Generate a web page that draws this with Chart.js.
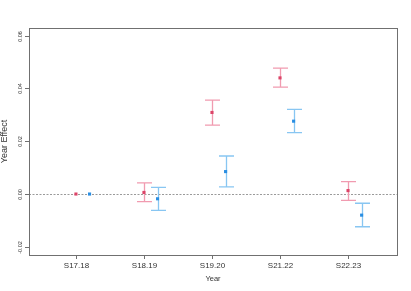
<!DOCTYPE html>
<html>
<head>
<meta charset="utf-8">
<script src="https://cdn.jsdelivr.net/npm/chart.js@4.4.0/dist/chart.umd.min.js"></script>
<style>
html,body{margin:0;padding:0;background:#fff;}
canvas{display:block;}
</style>
</head>
<body>
<canvas id="c" width="411" height="291"></canvas>
<script>
const categories = ['S17.18','S18.19','S19.20','S21.22','S22.23'];
const redEst  = [0, 0.0006, 0.0309, 0.0440, 0.0013];
const redLo   = [null, -0.0029, 0.0261, 0.0405, -0.0024];
const redHi   = [null, 0.0042, 0.0356, 0.0477, 0.0047];
const blueEst = [0, -0.0018, 0.0085, 0.0276, -0.0080];
const blueLo  = [null, -0.0062, 0.0027, 0.0233, -0.0124];
const blueHi  = [null, 0.0025, 0.0144, 0.0321, -0.0035];
const yTicks  = [-0.02, 0, 0.02, 0.04, 0.06];
const yTickLabels = ['-0.02','0.00','0.02','0.04','0.06'];

const BLUE_OFFSET = 0.2;
const RED_PT = '#dc4468', RED_BAR = '#f19bb0';
const BLUE_PT = '#2a8ee2', BLUE_BAR = '#88c6f2';
const AXIS = '#707070';
const FONT = '"Liberation Sans", Arial, Helvetica, sans-serif';

const redPts = redEst.map((v,i)=>({x:i, y:v}));
const bluePts = blueEst.map((v,i)=>({x:i+BLUE_OFFSET, y:v}));

const decor = {
  id:'decor',
  beforeDatasetsDraw(chart){
    const {ctx, chartArea:a, scales:{x,y}} = chart;
    ctx.save();
    const y0 = Math.round(y.getPixelForValue(0))+0.5;
    ctx.strokeStyle = '#9a9a9a';
    ctx.lineWidth = 1;
    ctx.setLineDash([2,1.5]);
    ctx.beginPath(); ctx.moveTo(a.left, y0); ctx.lineTo(a.right, y0); ctx.stroke();
    ctx.setLineDash([]);
    const drawBars = (lo, hi, off, col) => {
      ctx.strokeStyle = col;
      ctx.lineWidth = 1.3;
      lo.forEach((l,i)=>{
        if(l===null) return;
        const px = Math.round(x.getPixelForValue(i+off))+0.5;
        const pl = y.getPixelForValue(l), ph = y.getPixelForValue(hi[i]);
        ctx.beginPath();
        ctx.moveTo(px, pl); ctx.lineTo(px, ph);
        ctx.moveTo(px-7.5, pl); ctx.lineTo(px+7.5, pl);
        ctx.moveTo(px-7.5, ph); ctx.lineTo(px+7.5, ph);
        ctx.stroke();
      });
    };
    drawBars(redLo, redHi, 0, RED_BAR);
    drawBars(blueLo, blueHi, BLUE_OFFSET, BLUE_BAR);
    ctx.restore();
  },
  afterDraw(chart){
    const {ctx, chartArea:a, scales:{x,y}} = chart;
    ctx.save();
    ctx.strokeStyle = AXIS;
    ctx.lineWidth = 1;
    ctx.strokeRect(Math.round(a.left)+0.5, Math.round(a.top)+0.5,
                   Math.round(a.right-a.left), Math.round(a.bottom-a.top));
    ctx.fillStyle = '#333';
    ctx.font = '8px ' + FONT;
    ctx.textAlign = 'center';
    ctx.textBaseline = 'middle';
    categories.forEach((c,i)=>{
      const px = Math.round(x.getPixelForValue(i))+0.5;
      ctx.beginPath(); ctx.moveTo(px, a.bottom); ctx.lineTo(px, a.bottom+4); ctx.stroke();
      ctx.fillText(c, px, a.bottom+10.5);
    });
    ctx.font = '7.5px ' + FONT;
    ctx.fillText('Year', (a.left+a.right)/2, a.bottom+24);
    ctx.font = '5.5px ' + FONT;
    yTicks.forEach((v,i)=>{
      const py = Math.round(y.getPixelForValue(v))+0.5;
      ctx.beginPath(); ctx.moveTo(a.left-4, py); ctx.lineTo(a.left, py); ctx.stroke();
      ctx.save();
      ctx.translate(a.left-9, py);
      ctx.rotate(-Math.PI/2);
      ctx.fillText(yTickLabels[i], 0, 0);
      ctx.restore();
    });
    ctx.font = '9px ' + FONT;
    ctx.save();
    ctx.translate(5, (a.top+a.bottom)/2);
    ctx.rotate(-Math.PI/2);
    ctx.fillText('Year Effect', 0, 0);
    ctx.restore();
    ctx.restore();
  }
};

new Chart(document.getElementById('c'), {
  type:'scatter',
  data:{
    datasets:[
      {data:redPts, backgroundColor:RED_PT, borderColor:RED_PT, pointStyle:'rect', pointRadius:2.2, borderWidth:0},
      {data:bluePts, backgroundColor:BLUE_PT, borderColor:BLUE_PT, pointStyle:'rect', pointRadius:2.2, borderWidth:0}
    ]
  },
  options:{
    responsive:false,
    animation:false,
    devicePixelRatio:1,
    layout:{padding:{left:0,right:14,top:28,bottom:0}},
    plugins:{legend:{display:false}, tooltip:{enabled:false}},
    scales:{
      x:{type:'linear', min:-0.69, max:4.72,
         ticks:{display:false}, grid:{display:false}, border:{display:false},
         afterFit(s){ s.height = 36; }},
      y:{type:'linear', min:-0.0231, max:0.0629,
         ticks:{display:false}, grid:{display:false}, border:{display:false},
         afterFit(s){ s.width = 29; }}
    }
  },
  plugins:[decor]
});
</script>
</body>
</html>
